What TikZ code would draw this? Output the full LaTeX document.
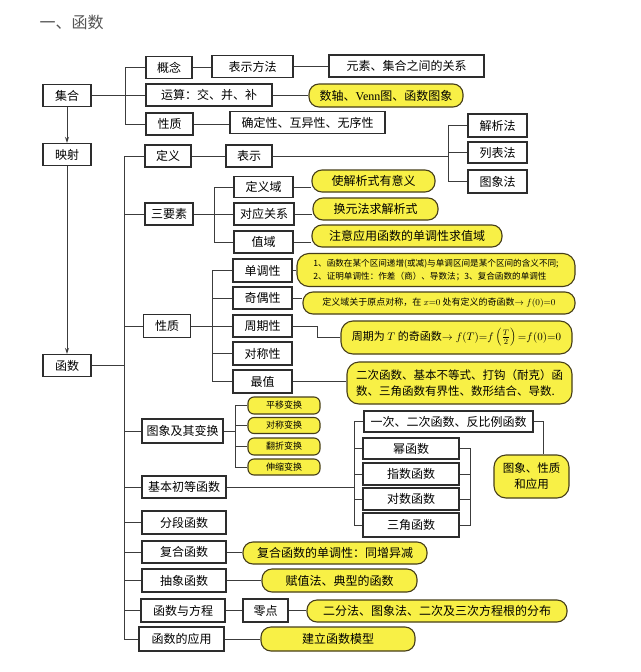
\documentclass[tikz,border=0pt]{standalone}
\usepackage{fontspec}
\setmainfont{Noto Sans CJK SC}
\newfontfamily\serifrm{Liberation Serif}
\usetikzlibrary{arrows.meta}
\definecolor{boxline}{RGB}{45,45,45}
\definecolor{linkline}{RGB}{60,60,60}
\definecolor{yfill}{RGB}{248,240,70}
\definecolor{yline}{RGB}{70,62,25}
\definecolor{titlegray}{RGB}{85,85,85}

\begin{document}
\begin{tikzpicture}[x=1pt, y=-1pt,
  box/.style={draw=boxline, fill=white, line width=1.1pt, inner sep=1pt, minimum height=22pt, font={\fontsize{12}{14}\selectfont}},
  ybox/.style={draw=yline, fill=yfill, line width=1.1pt, rounded corners=10pt, inner sep=2pt, minimum height=22pt, font={\fontsize{12}{14}\selectfont}},
  ysmall/.style={ybox, rounded corners=6pt, minimum height=16pt, font={\fontsize{9}{10}\selectfont}},
  wd/.style={minimum width=#1pt},
  ln/.style={draw=linkline, line width=0.9pt},
  arr/.style={ln, -{Stealth[length=6pt, width=4pt]}}]

\fill[white] (0,0) rectangle (640,672);
\useasboundingbox (0,0) rectangle (640,672);

\node[anchor=west, text=titlegray, font={\fontsize{16}{18}\selectfont}] (title) at (36,22.5) {一、函数};

% left column
\node[box, wd=48] (jihe) at (67,95.5) {集合};
\node[box, wd=48] (yingshe) at (67,154.5) {映射};
\node[box, wd=48] (hanshu) at (67,365.5) {函数};

% sets
\node[box, wd=46] (gainian) at (169,67.5) {概念};
\node[box, wd=81] (fangfa) at (252.5,66.5) {表示方法};
\node[box, wd=155] (yuansu) at (406.5,66) {元素、集合之间的关系};
\node[box, wd=126] (yunsuan) at (209,95) {运算：交、并、补};
\node[ybox, wd=154, minimum height=23pt] (shuzhou) at (386,95.5) {数轴、{\serifrm Venn}图、函数图象};
\node[box, wd=47] (xingzhi) at (169.5,124) {性质};
\node[box, wd=155] (queding) at (307.5,122.5) {确定性、互异性、无序性};

% definition
\node[box, wd=46] (dingyi) at (168,156) {定义};
\node[box, wd=46] (biaoshi) at (249,156) {表示};
\node[box, wd=59, minimum height=23pt] (jiexi) at (497.5,125.5) {解析法};
\node[box, wd=59, minimum height=21pt] (liebiao) at (497.5,152.5) {列表法};
\node[box, wd=59, minimum height=23pt] (tuxiangfa) at (497.5,181.5) {图象法};

% three elements
\node[box, wd=48] (sanyaosu) at (169,214) {三要素};
\node[box, wd=59, minimum height=21pt] (dingyiyu) at (263.5,187) {定义域};
\node[ybox, wd=123] (yiyi) at (373.5,181) {使解析式有意义};
\node[box, wd=60] (duiying) at (264,214) {对应关系};
\node[ybox, wd=125] (huanyuan) at (375.5,209) {换元法求解析式};
\node[box, wd=59] (zhiyu) at (263.5,242) {值域};
\node[ybox, wd=190] (zhuyi) at (407,236) {注意应用函数的单调性求值域};

% properties
\node[box, wd=47, minimum height=23pt] (xingzhi2) at (167,326) {性质};
\node[box, wd=59, minimum height=23pt] (dandiao) at (262.5,270.5) {单调性};
\node[ybox, wd=278, minimum height=33pt, rounded corners=12pt, align=left, font={\fontsize{8.6}{13}\selectfont}] (ddnote) at (436,270) {1、函数在某个区间递增(或减)与单调区间是某个区间的含义不同;\\2、证明单调性：作差（商）、导数法；3、复合函数的单调性};
\node[box, wd=59] (jiou) at (262.5,298) {奇偶性};
\node[ybox, wd=272, font={\fontsize{9}{11}\selectfont}] (jionote) at (439,303) {定义域关于原点对称，在 $x{=}0$ 处有定义的奇函数$\to f(0){=}0$};
\node[box, wd=59] (zhouqi) at (262.5,326) {周期性};
\node[ybox, wd=231, minimum height=33pt, rounded corners=12pt, font={\fontsize{11}{13}\selectfont}] (zqnote) at (456.5,337.5) {周期为 $T$ 的奇函数$\to f(T){=}f\left(\frac{T}{2}\right){=}f(0){=}0$};
\node[box, wd=59, minimum height=23pt] (duicheng) at (262.5,353.5) {对称性};
\node[box, wd=59, minimum height=23pt] (zuizhi) at (262.5,381.5) {最值};
\node[ybox, wd=225, minimum height=42pt, rounded corners=12pt, align=left, font={\fontsize{11.5}{16}\selectfont}] (zznote) at (459.5,383) {二次函数、基本不等式、打钩（耐克）函\\数、三角函数有界性、数形结合、导数.};

% graphs and transforms
\node[box, wd=81, minimum height=24pt] (bianhuan) at (182.5,431) {图象及其变换};
\node[ysmall, wd=72, minimum height=17pt] (pingyi) at (284,405.5) {平移变换};
\node[ysmall, wd=72] (duichengbh) at (284,425.5) {对称变换};
\node[ysmall, wd=72, minimum height=17pt] (fanzhe) at (284,446.5) {翻折变换};
\node[ysmall, wd=72] (shensuo) at (284,467) {伸缩变换};

% elementary functions
\node[box, wd=84] (jiben) at (184,487) {基本初等函数};
\node[box, wd=169, minimum height=21pt] (yici) at (448.5,421.5) {一次、二次函数、反比例函数};
\node[box, wd=96, minimum height=21pt] (mi) at (411,448.5) {幂函数};
\node[box, wd=96] (zhishu) at (411,474) {指数函数};
\node[box, wd=96] (duishu) at (411,499) {对数函数};
\node[box, wd=96, minimum height=24pt] (sanjiao) at (411,525) {三角函数};
\node[ybox, wd=75, minimum height=43pt, rounded corners=12pt, align=center, font={\fontsize{11.5}{16}\selectfont}] (yingyongnote) at (531.5,476.5) {图象、性质\\和应用};

% the rest
\node[box, wd=84, minimum height=23pt] (fenduan) at (184,522.5) {分段函数};
\node[box, wd=84] (fuhe) at (184,552) {复合函数};
\node[ybox, wd=184] (fuhenote) at (335,553) {复合函数的单调性：同增异减};
\node[box, wd=84, minimum height=23pt] (chouxiang) at (184,580.5) {抽象函数};
\node[ybox, wd=155, minimum height=23pt] (cxnote) at (339.5,580.5) {赋值法、典型的函数};
\node[box, wd=84, minimum height=23pt] (fangcheng) at (183,610.5) {函数与方程};
\node[box, wd=45, minimum height=23pt] (lingdian) at (265.5,610.5) {零点};
\node[ybox, wd=260] (ldnote) at (437,611) {二分法、图象法、二次及三次方程根的分布};
\node[box, wd=85, minimum height=24pt] (yingyong) at (181.5,639) {函数的应用};
\node[ybox, wd=154, minimum height=24pt] (mxnote) at (338,639) {建立函数模型};

% trunk columns
\coordinate (ta) at (125,0);
\coordinate (tb) at (124,0);
\coordinate (tc) at (448,0);
\coordinate (td) at (214,0);
\coordinate (te) at (212,0);
\coordinate (tf) at (317,0);
\coordinate (tg) at (235,0);
\coordinate (th) at (354,0);
\coordinate (ti) at (470,0);
\coordinate (tj) at (543,0);

\draw[arr] (jihe) -- (yingshe);
\draw[arr] (yingshe) -- (hanshu);

\draw[ln] (jihe.east) -- (jihe.east -| ta);
\draw[ln] (gainian.west) -- (gainian.west -| ta) -- (xingzhi.west -| ta) -- (xingzhi.west);
\draw[ln] (yunsuan.west -| ta) -- (yunsuan.west);
\draw[ln] (gainian.east) -- (gainian.east -| fangfa.west);
\draw[ln] (fangfa.east) -- (fangfa.east -| yuansu.west);
\draw[ln] (yunsuan.east) -- (yunsuan.east -| shuzhou.west);
\draw[ln] (xingzhi.east) -- (xingzhi.east -| queding.west);

\draw[ln] (hanshu.east) -- (hanshu.east -| tb);
\draw[ln] (dingyi.west) -- (dingyi.west -| tb) -- (yingyong.west -| tb) -- (yingyong.west);
\draw[ln] (sanyaosu.west -| tb) -- (sanyaosu.west);
\draw[ln] (xingzhi2.west -| tb) -- (xingzhi2.west);
\draw[ln] (bianhuan.west -| tb) -- (bianhuan.west);
\draw[ln] (jiben.west -| tb) -- (jiben.west);
\draw[ln] (fenduan.west -| tb) -- (fenduan.west);
\draw[ln] (fuhe.west -| tb) -- (fuhe.west);
\draw[ln] (chouxiang.west -| tb) -- (chouxiang.west);
\draw[ln] (fangcheng.west -| tb) -- (fangcheng.west);

\draw[ln] (dingyi.east) -- (dingyi.east -| biaoshi.west);
\draw[ln] (biaoshi.east) -- (biaoshi.east -| tc);
\draw[ln] (jiexi.west) -- (jiexi.west -| tc) -- (tuxiangfa.west -| tc) -- (tuxiangfa.west);
\draw[ln] (liebiao.west -| tc) -- (liebiao.west);

\draw[ln] (sanyaosu.east) -- (sanyaosu.east -| td);
\draw[ln] (dingyiyu.west) -- (dingyiyu.west -| td) -- (zhiyu.west -| td) -- (zhiyu.west);
\draw[ln] (duiying.west -| td) -- (duiying.west);
\draw[ln] (dingyiyu.east) -- (dingyiyu.east -| yiyi.west);
\draw[ln] (duiying.east) -- (duiying.east -| huanyuan.west);
\draw[ln] (zhiyu.east) -- (zhiyu.east -| zhuyi.west);

\draw[ln] (xingzhi2.east) -- (xingzhi2.east -| te);
\draw[ln] (dandiao.west) -- (dandiao.west -| te) -- (zuizhi.west -| te) -- (zuizhi.west);
\draw[ln] (jiou.west -| te) -- (jiou.west);
\draw[ln] (zhouqi.west -| te) -- (zhouqi.west);
\draw[ln] (duicheng.west -| te) -- (duicheng.west);
\draw[ln] (dandiao.east) -- (dandiao.east -| ddnote.west);
\draw[ln] (jiou.east) -- (jiou.east -| jionote.west);
\draw[ln] (zhouqi.east) -- (zhouqi.east -| tf) |- (zqnote.west);
\draw[ln] (zuizhi.east) -- (zuizhi.east -| zznote.west);

\draw[ln] (bianhuan.east) -- (bianhuan.east -| tg);
\draw[ln] (pingyi.west) -- (pingyi.west -| tg) -- (shensuo.west -| tg) -- (shensuo.west);
\draw[ln] (duichengbh.west -| tg) -- (duichengbh.west);
\draw[ln] (fanzhe.west -| tg) -- (fanzhe.west);

\draw[ln] (jiben.east) -- (jiben.east -| th);
\draw[ln] (yici.west) -- (yici.west -| th) -- (sanjiao.west -| th) -- (sanjiao.west);
\draw[ln] (mi.west -| th) -- (mi.west);
\draw[ln] (zhishu.west -| th) -- (zhishu.west);
\draw[ln] (duishu.west -| th) -- (duishu.west);
\draw[ln] (mi.east) -- (mi.east -| ti) -- (sanjiao.east -| ti) -- (sanjiao.east);
\draw[ln] (zhishu.east) -- (zhishu.east -| ti);
\draw[ln] (duishu.east) -- (duishu.east -| ti);
\draw[ln] (yici.east) -- (yici.east -| tj) -- (tj |- yingyongnote.north);

\draw[ln] (fuhe.east) -- (fuhe.east -| fuhenote.west);
\draw[ln] (chouxiang.east) -- (chouxiang.east -| cxnote.west);
\draw[ln] (fangcheng.east) -- (fangcheng.east -| lingdian.west);
\draw[ln] (lingdian.east) -- (lingdian.east -| ldnote.west);
\draw[ln] (yingyong.east) -- (yingyong.east -| mxnote.west);
\end{tikzpicture}
\end{document}
